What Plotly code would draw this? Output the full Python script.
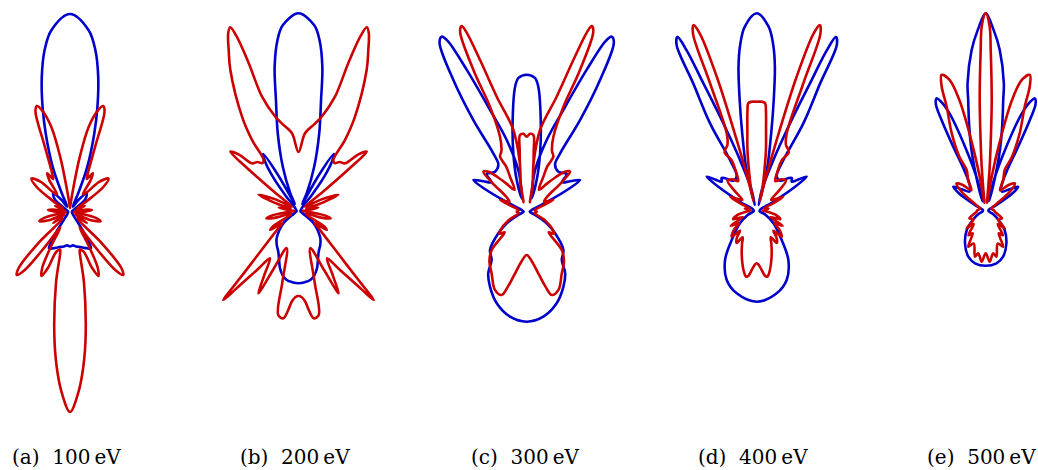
import numpy as np
import plotly.graph_objects as go

# ---------------- data: polar read-outs (right half, theta in degrees from the top) ----------------
A_BLUE_THETA = [0, 5.8, 8.9, 11.8, 14.5, 17.2, 21, 23.6, 28, 35, 42, 50, 58, 75, 100, 125, 140, 146, 150, 155, 162, 170, 175, 180]
A_BLUE_R = [198, 183, 164, 138, 110, 82, 48, 21, 6, 15, 25, 20, 5, 2, 2, 3, 8, 25, 42, 40, 37, 35, 33.5, 34.5]
A_RED_THETA = [0, 5, 8, 10, 12.5, 15.5, 17.4, 19, 20.9, 24.4, 27, 30.5, 33, 36, 40, 44, 49, 53, 57, 62, 68, 72, 78, 82, 85,
               88, 93, 99, 103, 107, 111, 116, 123, 127, 131, 134.5, 137.5, 139.8, 142, 144.5, 148, 151, 153.5, 156, 158.5,
               161, 165.3, 166.5, 168.8, 172.6, 175.1, 177.4, 180]
A_RED_R = [4, 10, 25, 55, 88, 106, 111, 106, 72, 44, 37, 45, 38, 22, 25, 42, 51, 42, 20, 8, 16, 6, 8, 18, 22,
           16, 4, 12, 27, 32, 24, 6, 20, 10, 10, 45, 76, 82.5, 74, 40, 18, 38, 62, 70, 60,
           42, 39, 42, 72, 122, 155.6, 181, 200]

B_BLUE_THETA = [0, 4.8, 7, 9.4, 11.5, 14.9, 19.5, 24.8, 27.5, 29.5, 31.7, 34, 37, 40, 44, 60, 80, 100, 120, 129,
                135, 141.4, 147, 153.6, 158, 162.1, 166, 170.3, 175, 180]
B_BLUE_R = [197.7, 186.6, 172.3, 146, 113, 80.7, 47, 19.8, 8, 40, 67, 60, 42, 20, 6, 3, 2, 2, 5, 19.6,
            27, 35, 40, 45.4, 52, 60.2, 66, 70, 71.5, 72.3]
B_RED_THETA = [0, 4.8, 10.7, 13.8, 17.7, 18.6, 19.5, 20.4, 21.6, 23.5, 25.8, 30.9, 33.2, 34.3, 37, 40, 44.3, 46.5, 49, 50,
               51.5, 54, 58, 63, 68, 71, 75, 80, 84, 90, 96, 100, 103, 106, 110, 116, 121, 124, 127, 130.6,
               136, 138.1, 139.1, 139.8, 141.1, 142.7, 145.2, 148.9, 152, 154, 156.5, 162.4, 167.2, 169, 171.9,
               174, 175.7, 178, 180]
B_RED_R = [59, 78, 89, 97, 120, 156, 185, 196, 191, 175, 156.6, 110, 85, 62, 60, 64, 66.6, 82, 90.4, 70,
           35, 12, 8, 25, 43, 25, 8, 20, 10, 4, 12, 28, 33, 25, 8, 10, 30, 34, 20, 26.6,
           49, 71.4, 94, 116.5, 101, 85.7, 70.4, 55.2, 73.4, 91.6, 65.2, 39, 72.5, 106, 108.4,
           100, 91, 86, 85]

C_BLUE_THETA = [0, 3.5, 5.3, 8.7, 12.9, 17.5, 20, 13, 11.4, 15.6, 19.8, 22.9, 24.8, 25.9, 27.3, 29.1, 30.2, 29.8, 31,
                38.4, 46.7, 50, 55, 59.3, 61.5, 64, 70, 90, 110, 120, 127.3, 136.2, 144, 148, 153.9, 161.9, 171, 180]
C_BLUE_R = [137, 134, 125.5, 92.8, 59.9, 33.2, 14, 25, 42.5, 74.4, 108, 153.9, 188, 194.6, 190, 150.8, 106, 67, 55,
            51, 55, 46, 53, 62, 48, 25, 6, 3, 8, 23, 35.7, 53, 59.7, 72.6, 83.5, 96.4, 106.3, 110]
C_RED_THETA = [0, 2.5, 5, 6.5, 9, 13, 18, 12, 8, 9.3, 14.6, 17.1, 18.6, 19.3, 20.3, 20.6, 19.3, 19.6, 22.5, 25.9,
               24.5, 25.5, 29, 36, 40, 43.8, 47.3, 50, 54, 60, 66, 70, 80, 90, 100, 115, 125, 129, 133, 137.6,
               143, 150.4, 157.9, 163.3, 166, 168.9, 174, 180]
C_RED_R = [75, 78, 77, 62, 42, 25, 10, 28, 50, 83, 118.8, 158.7, 190, 196.7, 192, 151.4, 111.2, 79.6, 66, 61,
           50, 38.8, 25, 35, 45, 55.4, 59, 45, 25, 20, 29, 15, 8, 10, 8, 20, 32, 35, 30, 52,
           62, 71, 84.4, 87, 77, 64.5, 50, 43.3]

D_BLUE_THETA = [0, 3.7, 5.7, 7.2, 8.8, 10.6, 13.7, 16, 19, 14, 18.2, 20.9, 22.7, 23.6, 24.5, 25.8, 26.5, 28.1, 27.8, 30,
                38, 44, 47, 50.4, 53, 55.8, 58, 62, 70, 100, 115, 127, 139.5, 147.3, 156.6, 166.4, 180]
D_BLUE_R = [197.4, 184.4, 166.5, 145, 111, 78.7, 45.3, 18, 6, 22, 53.4, 93.6, 138, 175, 191, 184, 142, 99, 57.3, 40,
            38, 45, 48, 45.5, 52, 60.5, 46, 18, 4, 3, 10, 21, 38.5, 58.6, 75.5, 85, 91]
D_RED_THETA = [0, 3, 4.5, 5.3, 6.7, 8.7, 11, 14, 18, 15.6, 15.8, 16.6, 17.8, 18.8, 19.8, 20.1, 21.2, 24, 27, 28.9,
               26.5, 28, 32, 38, 44, 48, 53, 58, 62.3, 66, 72, 80, 88, 95, 103, 110, 115, 120, 125, 130,
               136, 140, 144, 148, 152, 156, 160.6, 165, 168, 170.5, 172.5, 175, 178, 180]
D_RED_R = [109, 109, 107.7, 100, 80, 61, 40, 24, 10, 28, 73.5, 140, 186, 196, 188, 136, 83, 72, 69, 66,
           57, 44, 35, 40, 42, 30, 18, 22, 30, 18, 8, 12, 6, 10, 20, 25, 15, 30, 22, 30,
           36, 26, 34, 38, 30, 36, 45.2, 55, 62, 66.5, 66, 60, 54, 52.6]

E_BLUE_THETA = [0, 2.5, 5, 8.1, 9, 11, 13.2, 16.3, 19, 15, 17.9, 20.5, 22.5, 23.6, 25, 26, 26.9, 28, 32, 40,
                48, 53.5, 57, 62, 75, 100, 115, 125, 135.5, 147.6, 159.3, 168.5, 180]
E_BLUE_R = [197.4, 181, 161.3, 128.7, 112, 86.6, 62.3, 28.5, 10, 30, 67.2, 105, 119, 122.6, 118, 100, 71.7, 45, 30, 25,
            32, 40.3, 32, 12, 3, 3, 8, 15, 27, 38.6, 49.2, 53.7, 55]
E_RED_THETA = [0, 1.2, 1.8, 3.1, 4, 5.2, 7, 9, 10, 11.5, 13.4, 15.5, 18, 19.5, 20.5, 23.7, 26, 25, 30, 35,
               42, 47, 52, 58, 70, 85, 100, 115, 125, 132.8, 138, 145, 150, 154.2, 160, 166.9, 170.1, 175.5, 180]
E_RED_R = [197.4, 185, 160, 111, 75, 44, 15, 8, 35, 70, 114, 136, 142.7, 132, 112, 84.5, 60, 45, 35, 25,
           35, 40, 30, 12, 6, 8, 10, 18, 15, 26, 18, 30, 26, 40, 35, 47.2, 43.2, 51.2, 42.6]

PANEL_LETTERS = ["(a)", "(b)", "(c)", "(d)", "(e)"]
ENERGY_LABELS = ["100", "200", "300", "400", "500"]

# ---------------- layout (pixels) ----------------
W, H = 1038, 470
PANEL_CX = [70, 298.5, 526.7, 756.7, 985.7]
PANEL_CY = [212, 211, 211.7, 210.7, 210.7]
PANEL_HALF = [68, 100, 108, 100, 52]
CAPTION_CX = [66, 295, 525.5, 752.5, 981]
CAPTION_Y = 457

BLUE = "rgb(0,0,204)"
RED = "rgb(204,0,0)"

curves = [
    [(A_BLUE_THETA, A_BLUE_R), (A_RED_THETA, A_RED_R)],
    [(B_BLUE_THETA, B_BLUE_R), (B_RED_THETA, B_RED_R)],
    [(C_BLUE_THETA, C_BLUE_R), (C_RED_THETA, C_RED_R)],
    [(D_BLUE_THETA, D_BLUE_R), (D_RED_THETA, D_RED_R)],
    [(E_BLUE_THETA, E_BLUE_R), (E_RED_THETA, E_RED_R)],
]


def mirrored(theta, r):
    th = np.asarray(theta, float)
    rr = np.asarray(r, float)
    assert len(th) == len(rr)
    th_full = np.concatenate([th, -th[::-1][1:]])
    r_full = np.concatenate([rr, rr[::-1][1:]])
    t = np.radians(th_full)
    return r_full * np.sin(t), r_full * np.cos(t)


fig = go.Figure()
layout = dict(width=W, height=H, margin=dict(l=0, r=0, t=0, b=0),
              paper_bgcolor="white", plot_bgcolor="white", showlegend=False)

for i in range(5):
    sfx = "" if i == 0 else str(i + 1)
    for (th, rr), col in zip(curves[i], [BLUE, RED]):
        x, y = mirrored(th, rr)
        fig.add_trace(go.Scatter(x=x, y=y, mode="lines",
                                 line=dict(color=col, width=2.6, shape="spline", smoothing=1.0),
                                 xaxis="x" + sfx, yaxis="y" + sfx, hoverinfo="skip"))
    cx, cy, hw = PANEL_CX[i], PANEL_CY[i], PANEL_HALF[i]
    d0 = max(0.0, (cx - hw) / W)
    d1 = min(1.0, (cx + hw) / W)
    layout["xaxis" + sfx] = dict(domain=[d0, d1], range=[(d0 * W - cx), (d1 * W - cx)],
                                 visible=False, fixedrange=True, anchor="y" + sfx)
    layout["yaxis" + sfx] = dict(domain=[0, 1], range=[cy - H, cy], visible=False,
                                 fixedrange=True, anchor="x" + sfx)

annotations = []
for i in range(5):
    annotations.append(dict(
        x=CAPTION_CX[i] / W, y=(H - CAPTION_Y) / H, xref="paper", yref="paper",
        xanchor="center", yanchor="middle", showarrow=False,
        text=PANEL_LETTERS[i] + "\u00a0\u00a0" + ENERGY_LABELS[i] + "\u2009eV",
        font=dict(family="DejaVu Serif", size=20, color="black")))
layout["annotations"] = annotations

fig.update_layout(**layout)
fig.write_html("out.html", config={"displayModeBar": False},
               post_script="document.body.style.margin='0px';document.body.style.overflow='hidden';")
